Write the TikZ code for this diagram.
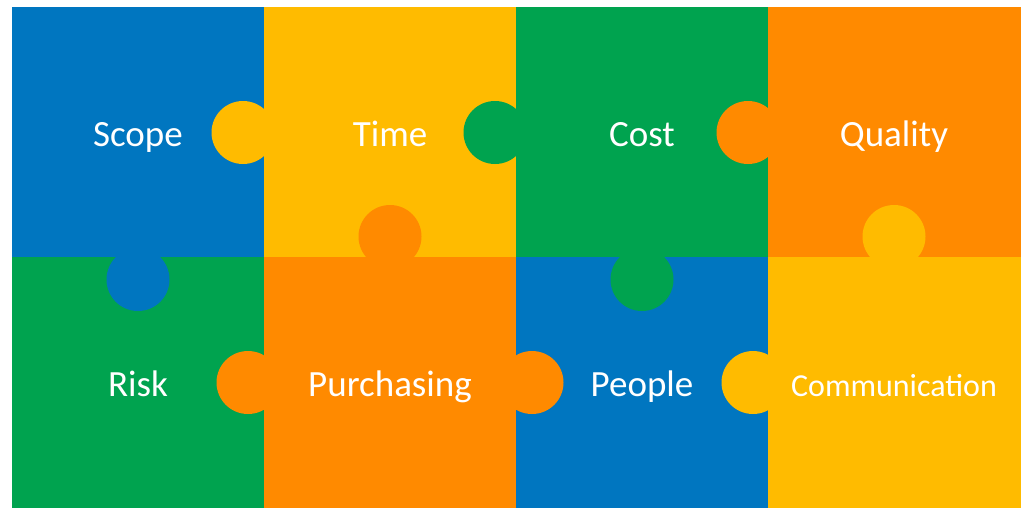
\documentclass[tikz,border=0pt]{standalone}
\usepackage{fontspec}
\setmainfont{Carlito}
\usetikzlibrary{positioning}
\definecolor{pblue}{RGB}{0,118,192}
\definecolor{pyellow}{RGB}{255,187,0}
\definecolor{pgreen}{RGB}{0,163,79}
\definecolor{porange}{RGB}{255,138,0}
\tikzset{
  tile/.style = {rectangle, fill=#1, draw=#1, line width=0.6pt, minimum width=252pt, minimum height=250pt, inner sep=0pt, outer sep=0pt, text height=28pt, text depth=0pt, text=white, font=\fontsize{37}{44}\selectfont},
  knob/.style = {circle, fill=#1, minimum size=63pt, inner sep=0pt, outer sep=0pt}
}

\begin{document}
\begin{tikzpicture}[x=1pt, y=-1pt, node distance=0pt]
  \useasboundingbox (0,0) rectangle (1023,507);
  % Puzzleteile
  \node[tile=pblue] (scope) at (138,132.5) {Scope};
  \node[tile=pyellow, right=of scope] (time) {Time};
  \node[tile=pgreen, right=of time] (cost) {Cost};
  \node[tile=porange, right=of cost] (quality) {Quality};

  \node[tile=pgreen, below=of scope] (risk) {Risk};
  \node[tile=porange, below=of time] (purchasing) {Purchasing};
  \node[tile=pblue, below=of cost] (people) {People};
  \node[tile=pyellow, below=of quality, font=\fontsize{32}{38}\selectfont] (comm) {Communication};

  % Nasen
  \node[knob=pyellow] (k1) at ([xshift=-21pt]scope.east) {};
  \node[knob=pgreen] (k2) at ([xshift=-21pt]time.east) {};
  \node[knob=porange] (k3) at ([xshift=-20pt]cost.east) {};
  \node[knob=porange] (k4) at ([yshift=21pt]purchasing.north) {};
  \node[knob=pblue] (k5) at ([yshift=-22pt]risk.north) {};
  \node[knob=pgreen] (k6) at ([yshift=-22pt]people.north) {};
  \node[knob=pyellow] (k7) at ([yshift=21pt]comm.north) {};
  \node[knob=porange] (k8) at ([xshift=-16pt]purchasing.west) {};
  \node[knob=porange] (k9) at ([xshift=16pt]purchasing.east) {};
  \node[knob=pyellow] (k10) at ([xshift=-15pt]comm.west) {};
\end{tikzpicture}
\end{document}
